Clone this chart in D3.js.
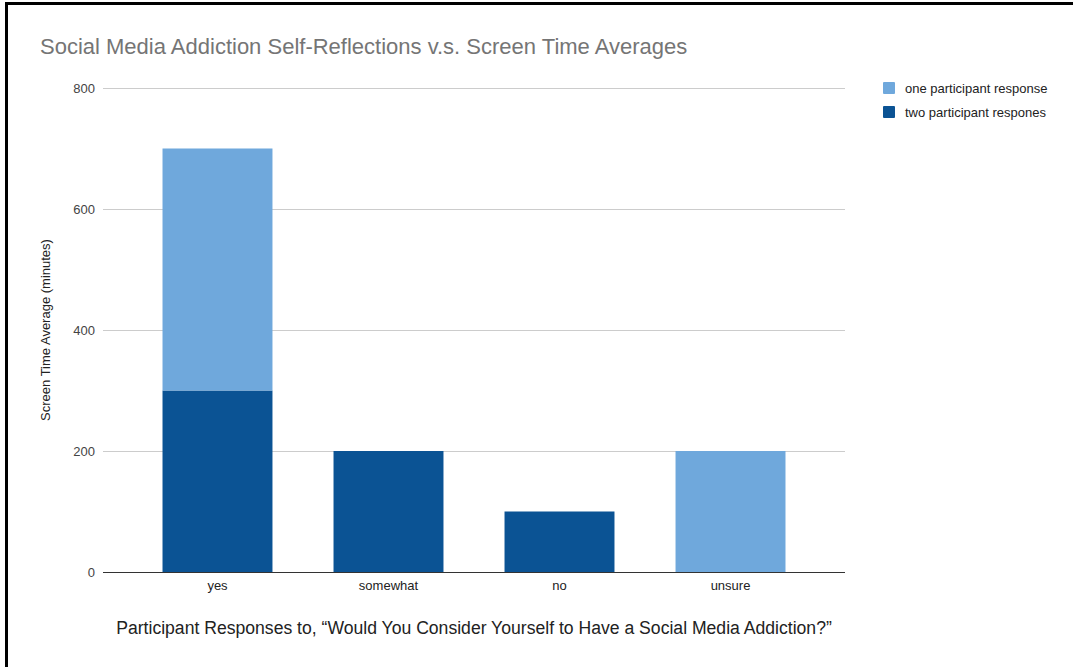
<!DOCTYPE html>
<html>
<head>
<meta charset="utf-8">
<script src="https://cdn.jsdelivr.net/npm/d3@7"></script>
<style>
  body { margin: 0; background: #fff; }
  svg { display: block; font-family: "Liberation Sans", Arial, sans-serif; }
</style>
</head>
<body>
<svg id="chart" width="1073" height="667"></svg>
<script>
var categories = ['yes', 'somewhat', 'no', 'unsure'];
var twoResponses = [300, 200, 100, 0];
var oneResponse = [400, 0, 0, 200];
var seriesNames = ['two participant respones', 'one participant response'];
var yTicks = [0, 200, 400, 600, 800];

var colors = { one: '#6fa8dc', two: '#0b5394' };

var svg = d3.select('#chart');
var margin = { left: 103, right: 228, top: 88, bottom: 95 };
var width = 1073, height = 667;

// frame lines on top and left
svg.append('rect').attr('x', 5).attr('y', 2).attr('width', 1070).attr('height', 3).attr('fill', '#000');
svg.append('rect').attr('x', 5).attr('y', 2).attr('width', 3).attr('height', 670).attr('fill', '#000');

var x = d3.scaleBand()
  .domain(categories)
  .range([margin.left, width - margin.right])
  .paddingInner(0.357)
  .paddingOuter(0.348);

var y = d3.scaleLinear()
  .domain([0, 800])
  .range([height - margin.bottom, margin.top]);

// gridlines
svg.append('g')
  .selectAll('line')
  .data(yTicks.filter(function (d) { return d > 0; }))
  .join('line')
  .attr('x1', margin.left)
  .attr('x2', width - margin.right)
  .attr('y1', function (d) { return y(d) + 0.5; })
  .attr('y2', function (d) { return y(d) + 0.5; })
  .attr('stroke', '#cccccc');

// y tick labels
var yAxis = svg.append('g')
  .attr('transform', 'translate(' + (margin.left - 8) + ',0)')
  .call(d3.axisLeft(y).tickValues(yTicks).tickSize(0).tickPadding(0));
yAxis.select('.domain').remove();
yAxis.selectAll('text').attr('font-size', 13).attr('fill', '#444').attr('font-family', 'Liberation Sans, Arial, sans-serif');

var stackData = categories.map(function (c, i) {
  return { cat: c, two: twoResponses[i], one: oneResponse[i] };
});
var stack = d3.stack().keys(['two', 'one'])(stackData);

svg.append('g')
  .selectAll('g')
  .data(stack)
  .join('g')
  .attr('fill', function (s) { return colors[s.key]; })
  .selectAll('rect')
  .data(function (s) { return s; })
  .join('rect')
  .attr('x', function (d) { return x(d.data.cat); })
  .attr('width', x.bandwidth())
  .attr('y', function (d) { return y(d[1]); })
  .attr('height', function (d) { return y(d[0]) - y(d[1]); });

// baseline
svg.append('line')
  .attr('x1', margin.left)
  .attr('x2', width - margin.right)
  .attr('y1', y(0) + 0.5)
  .attr('y2', y(0) + 0.5)
  .attr('stroke', '#333')
  .attr('stroke-width', 1);

// x labels
var xAxis = svg.append('g')
  .attr('transform', 'translate(0,' + (y(0) + 9) + ')')
  .call(d3.axisBottom(x).tickSize(0).tickPadding(0));
xAxis.select('.domain').remove();
xAxis.selectAll('text').attr('font-size', 13).attr('fill', '#222').attr('font-family', 'Liberation Sans, Arial, sans-serif');

// title
svg.append('text')
  .attr('x', 40).attr('y', 54)
  .attr('font-size', 22)
  .attr('fill', '#757575')
  .text('Social Media Addiction Self-Reflections v.s. Screen Time Averages');

// axis titles
svg.append('text')
  .attr('x', (margin.left + width - margin.right) / 2)
  .attr('y', 634)
  .attr('text-anchor', 'middle')
  .attr('font-size', 17.6)
  .attr('fill', '#222')
  .text('Participant Responses to, \u201cWould You Consider Yourself to Have a Social Media Addiction?\u201d');

svg.append('text')
  .attr('transform', 'translate(50,' + ((margin.top + height - margin.bottom) / 2) + ') rotate(-90)')
  .attr('text-anchor', 'middle')
  .attr('font-size', 13)
  .attr('fill', '#222')
  .text('Screen Time Average (minutes)');

// legend
var legendItems = [
  { name: seriesNames[1], color: colors.one },
  { name: seriesNames[0], color: colors.two }
];
var legend = svg.append('g')
  .selectAll('g')
  .data(legendItems)
  .join('g')
  .attr('transform', function (d, i) { return 'translate(883,' + (82 + i * 24) + ')'; });
legend.append('rect')
  .attr('width', 12).attr('height', 12).attr('rx', 1)
  .attr('fill', function (d) { return d.color; });
legend.append('text')
  .attr('x', 22).attr('y', 10.5)
  .attr('font-size', 13)
  .attr('fill', '#222')
  .text(function (d) { return d.name; });
</script>
</body>
</html>
